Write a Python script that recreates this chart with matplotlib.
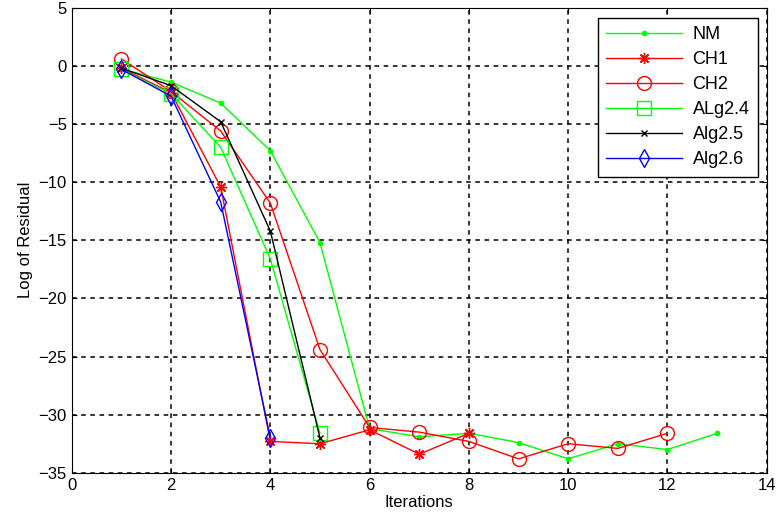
import matplotlib.pyplot as plt

plt.rcParams['font.family'] = ['Liberation Sans', 'DejaVu Sans']

# datos
x_nm = [1, 2, 3, 4, 5, 6, 7, 8, 9, 10, 11, 12, 13]
nm = [-0.25, -1.4, -3.2, -7.3, -15.2, -31.2, -31.9, -31.6, -32.4, -33.8, -32.5, -33.0, -31.6]

x_ch1 = [1, 2, 3, 4, 5, 6, 7, 8]
ch1 = [-0.2, -2.3, -10.4, -32.3, -32.5, -31.3, -33.4, -31.6]

x_ch2 = [1, 2, 3, 4, 5, 6, 7, 8, 9, 10, 11, 12]
ch2 = [0.6, -2.2, -5.6, -11.8, -24.4, -31.1, -31.5, -32.3, -33.8, -32.5, -32.9, -31.6]

x_a24 = [1, 2, 3, 4, 5]
a24 = [-0.3, -2.4, -7.0, -16.6, -31.6]

x_a25 = [1, 2, 3, 4, 5]
a25 = [-0.2, -1.7, -4.8, -14.2, -32.0]

x_a26 = [1, 2, 3, 4]
a26 = [-0.3, -2.6, -11.7, -32.0]

fig = plt.figure(figsize=(7.8, 5.19), dpi=100)
ax = fig.add_axes([0.092, 0.089, 0.891, 0.896])

ax.plot(x_nm, nm, color='#00ff00', marker='.', ms=6, lw=1, label='NM')
ax.plot(x_ch1, ch1, color='red', marker=(8, 2, 0), ms=8, mew=1, lw=1, label='CH1')
ax.plot(x_ch2, ch2, color='red', marker='o', ms=10, mfc='none', lw=1, label='CH2')
ax.plot(x_a24, a24, color='#00ff00', marker='s', ms=10, mfc='none', lw=1, label='ALg2.4')
ax.plot(x_a25, a25, color='black', marker='x', ms=5, lw=1, label='Alg2.5')
ax.plot(x_a26, a26, color='blue', marker='d', ms=9, mfc='none', lw=1, label='Alg2.6')

ax.set_xlim(0, 14)
ax.set_ylim(-35, 5)
ax.set_xticks(range(0, 15, 2))
ax.set_yticks(range(-35, 6, 5))
ax.grid(True, color='black', linestyle=(0, (3, 3)), linewidth=1.1)
ax.tick_params(direction='in', labelsize=12, top=True, right=True)

ax.set_xlabel('Iterations', fontsize=12, labelpad=2)
ax.set_ylabel('Log of Residual', fontsize=12, labelpad=4)

leg = ax.legend(loc='upper right', bbox_to_anchor=(1.0, 0.998), fancybox=False,
                edgecolor='black', framealpha=1, fontsize=13, handlelength=4.2,
                borderpad=0.45, labelspacing=0.45, handletextpad=0.6)
leg.get_frame().set_linewidth(1)

plt.savefig('out.png', dpi=100)
